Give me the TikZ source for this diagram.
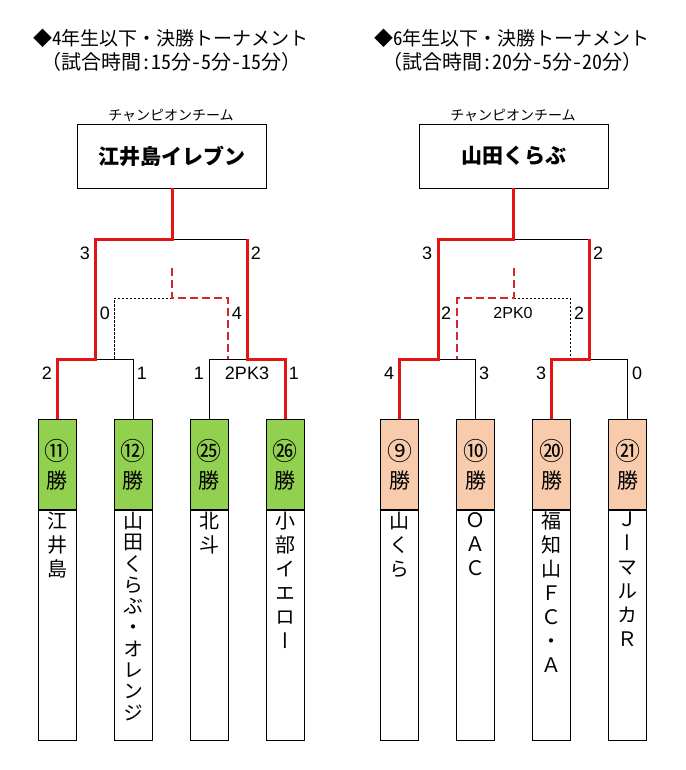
\documentclass[tikz,border=0pt]{standalone}
\usepackage{fontspec}
\setmainfont{Noto Sans CJK JP}
\newfontfamily\vfont[RawFeature=+vert]{Noto Sans CJK JP}
\newfontfamily\hwfont[RawFeature=+hwid]{Noto Sans CJK JP}
\newfontfamily\numfont{Liberation Sans}
\newcommand{\hw}[1]{{\hwfont #1}}
\usepackage{tikz}
\usetikzlibrary{positioning}

\definecolor{winred}{RGB}{226,20,20}
\definecolor{dashred}{RGB}{212,40,40}
\definecolor{headgreen}{RGB}{146,208,80}
\definecolor{headpeach}{RGB}{248,203,173}

\tikzset{
  plain/.style={draw=black, line width=0.9pt},
  win/.style={draw=winred, line width=3pt},
  windash/.style={draw=dashred, line width=2pt, dash pattern=on 8pt off 4pt},
  lossdash/.style={draw=black, line width=0.8pt, dash pattern=on 2.5pt off 1.5pt},
  title/.style={align=center, font=\fontsize{19}{24}\selectfont},
  cptext/.style={font=\fontsize{14}{14}\selectfont, inner sep=0pt},
  champbox/.style={draw, line width=0.9pt, minimum width=189pt, minimum height=64pt, font=\fontsize{21}{24}\selectfont\bfseries},
  head/.style={draw, line width=0.9pt, minimum width=38pt, minimum height=90pt, anchor=north, align=center, inner sep=0pt, font=\fontsize{21}{28}\selectfont},
  namebox/.style={draw, line width=0.9pt, minimum width=38pt, minimum height=230pt, anchor=north},
  teamname/.style={anchor=north, align=center, inner sep=0pt, font=\vfont\fontsize{20}{24}\selectfont},
  score/.style={font=\numfont\fontsize{18}{18}\selectfont, inner sep=0pt},
}
\newcommand{\cnum}[1]{{\fontsize{25}{28}\selectfont #1}}
\newcommand{\subttl}{\fontsize{20}{24}\selectfont}

\begin{document}
\begin{tikzpicture}[x=1pt,y=-1pt]
\useasboundingbox (0,0) rectangle (685,770);

% headers
\node[title] (ttlL) at (171,50) {◆\hw{4}年生以下\hw{・}決勝トーナメント\\\subttl（試合時間\hw{:15}分\hw{-5}分\hw{-15}分）};
\node[title] (ttlR) at (512,50) {◆\hw{6}年生以下\hw{・}決勝トーナメント\\\subttl（試合時間\hw{:20}分\hw{-5}分\hw{-20}分）};
\node[cptext] (cpL) at (171,115) {チャンピオンチーム};
\node[cptext] (cpR) at (513,115) {チャンピオンチーム};
\node[champbox] (chL) at (172,156) {江井島イレブン};
\node[champbox] (chR) at (513.5,156) {山田くらぶ};

% team boxes, 4th grade
\node[head, fill=headgreen] (tL1) at (57,419) {\cnum{⑪}\\勝};
\node[head, fill=headgreen] (tL2) at (133,419) {\cnum{⑫}\\勝};
\node[head, fill=headgreen] (tL3) at (209,419) {\cnum{㉕}\\勝};
\node[head, fill=headgreen] (tL4) at (285,419) {\cnum{㉖}\\勝};
\foreach \i in {1,...,4}
  \node[namebox, below=0pt of tL\i] (bL\i) {};
\node[teamname, below=2pt of tL1] (nL1) {江\\井\\島};
\node[teamname, below=2pt of tL2, font=\vfont\fontsize{20}{21.3}\selectfont] (nL2) {山\\田\\く\\ら\\ぶ\\・\\オ\\レ\\ン\\ジ};
\node[teamname, below=2pt of tL3] (nL3) {北\\斗};
\node[teamname, below=2pt of tL4] (nL4) {小\\部\\イ\\エ\\ロ\\ー};

% team boxes, 6th grade
\node[head, fill=headpeach] (tR1) at (399.5,419) {\cnum{⑨}\\勝};
\node[head, fill=headpeach] (tR2) at (475.5,419) {\cnum{⑩}\\勝};
\node[head, fill=headpeach] (tR3) at (551.5,419) {\cnum{⑳}\\勝};
\node[head, fill=headpeach] (tR4) at (627.5,419) {\cnum{㉑}\\勝};
\foreach \i in {1,...,4}
  \node[namebox, below=0pt of tR\i] (bR\i) {};
\node[teamname, below=2pt of tR1] (nR1) {山\\く\\ら};
\node[teamname, below=2pt of tR2] (nR2) {Ｏ\\Ａ\\Ｃ};
\node[teamname, below=2pt of tR3] (nR3) {福\\知\\山\\Ｆ\\Ｃ\\・\\Ａ};
\node[teamname, below=2pt of tR4] (nR4) {Ｊ\\ー\\マ\\ル\\カ\\Ｒ};

% bracket points
\coordinate (fL) at (172,239);
\coordinate (aL2) at (247,239);
\coordinate (sL1) at (95,359);
\coordinate (sL2) at (247,359);
\coordinate (mL) at (172,268);
\coordinate (kL) at (172,298);
\coordinate (dL1) at (114,359);
\coordinate (dL2) at (228,359);

\coordinate (fR) at (513.5,239);
\coordinate (aR2) at (589,239);
\coordinate (sR1) at (438,359);
\coordinate (sR2) at (589,359);
\coordinate (mR) at (513.5,268);
\coordinate (kR) at (513.5,298);
\coordinate (dR1) at (457,359);
\coordinate (dR2) at (570,359);

% losing lines
\draw[plain] (fL) -- (aL2);
\draw[plain] (sL1) -| (tL2.north);
\draw[plain] (sL2) -| (tL3.north);
\draw[plain] (fR) -- (aR2);
\draw[plain] (sR1) -| (tR2.north);
\draw[plain] (sR2) -| (tR4.north);

% PK lines
\draw[lossdash] (kL) -| (dL1);
\draw[windash] (mL) -- (kL) -| (dL2);
\draw[lossdash] (kR) -| (dR2);
\draw[windash] (mR) -- (kR) -| (dR1);

% winning lines
\draw[win] (chL.south) -- (fL) -| (sL1) -| (tL1.north);
\draw[win] (aL2) -- (sL2) -| (tL4.north);
\draw[win] (chR.south) -- (fR) -| (sR1) -| (tR1.north);
\draw[win] (aR2) -- (sR2) -| (tR3.north);

% scores
\node[score] (scL1) at (85,253) {3};
\node[score] (scL2) at (256,253) {2};
\node[score] (scL3) at (105,313) {0};
\node[score] (scL4) at (237,313) {4};
\node[score] (scL5) at (47,373) {2};
\node[score] (scL6) at (142,373) {1};
\node[score] (scL7) at (199,373) {1};
\node[score] (pkL) at (247,373) {2PK3};
\node[score] (scL8) at (294,373) {1};

\node[score] (scR1) at (427,253) {3};
\node[score] (scR2) at (598,253) {2};
\node[score] (scR3) at (446,313) {2};
\node[score, font=\numfont\fontsize{16}{16}\selectfont] (pkR) at (513,313) {2PK0};
\node[score] (scR4) at (579,313) {2};
\node[score] (scR5) at (389,373) {4};
\node[score] (scR6) at (484,373) {3};
\node[score] (scR7) at (541,373) {3};
\node[score] (scR8) at (637,373) {0};
\end{tikzpicture}
\end{document}
